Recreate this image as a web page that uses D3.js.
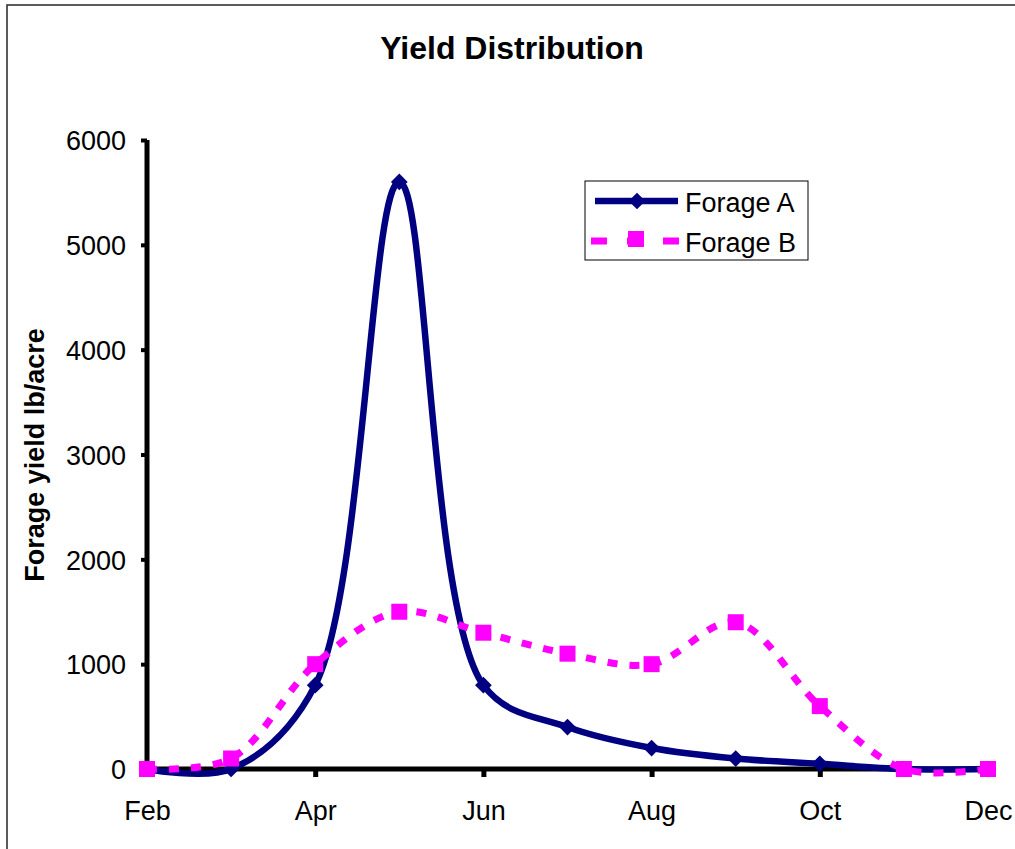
<!DOCTYPE html>
<html>
<head>
<meta charset="utf-8">
<script src="https://cdn.jsdelivr.net/npm/d3@7"></script>
<style>
  html, body { margin: 0; padding: 0; background: #fff; }
  svg { display: block; }
  text { font-family: "Liberation Sans", Arial, sans-serif; }
</style>
</head>
<body>
<script>
// ---- data ----
const months = ["Feb", "Mar", "Apr", "May", "Jun", "Jul", "Aug", "Sep", "Oct", "Nov", "Dec"];
const forageA = [0, 0, 800, 5600, 800, 400, 200, 100, 50, 0, 0];
const forageB = [0, 100, 1000, 1500, 1300, 1100, 1000, 1400, 600, 0, 0];
const xTickLabels = ["Feb", "Apr", "Jun", "Aug", "Oct", "Dec"];
const yTicks = [0, 1000, 2000, 3000, 4000, 5000, 6000];
const seriesNames = ["Forage A", "Forage B"];

const W = 1015, H = 849;
const svg = d3.select("body").append("svg").attr("width", W).attr("height", H);

// outer frame
svg.append("rect").attr("x", 7).attr("y", 5).attr("width", W + 10).attr("height", H + 10)
  .attr("fill", "none").attr("stroke", "#333").attr("stroke-width", 1.6);

// title
svg.append("text").attr("x", 512).attr("y", 59).attr("text-anchor", "middle")
  .attr("font-size", 32).attr("font-weight", "bold").text("Yield Distribution");

const x = d3.scalePoint().domain(months).range([147, 988]);
const y = d3.scaleLinear().domain([0, 6000]).range([769, 140]);

// y axis
const yAxis = svg.append("g").attr("transform", "translate(147,0)")
  .call(d3.axisLeft(y).tickValues(yTicks).tickSize(6).tickPadding(15).tickFormat(d3.format("d")));
yAxis.select(".domain").remove();
yAxis.selectAll(".tick line").attr("stroke", "#000").attr("stroke-width", 4);
yAxis.selectAll(".tick text").attr("font-size", 27).attr("fill", "#000").attr("dy", "0.36em");
svg.append("line").attr("x1", 147).attr("x2", 147).attr("y1", 140).attr("y2", 771.5)
  .attr("stroke", "#000").attr("stroke-width", 5);

// x axis
const xAxis = svg.append("g").attr("transform", "translate(0,769)")
  .call(d3.axisBottom(x).tickValues(xTickLabels).tickSize(8).tickPadding(24));
xAxis.select(".domain").remove();
xAxis.selectAll(".tick line").attr("stroke", "#000").attr("stroke-width", 5);
xAxis.selectAll(".tick text").attr("font-size", 27).attr("fill", "#000").attr("y", 51).attr("dy", "0");
svg.append("line").attr("x1", 144.5).attr("x2", 990).attr("y1", 769).attr("y2", 769)
  .attr("stroke", "#000").attr("stroke-width", 5);

// y axis title
svg.append("text").attr("transform", "translate(44,455) rotate(-90)")
  .attr("text-anchor", "middle").attr("font-size", 27).attr("font-weight", "bold")
  .text("Forage yield lb/acre");

const line = d3.line().x((d, i) => x(months[i])).y(d => y(d)).curve(d3.curveCatmullRom.alpha(0.5));

// Forage A
svg.append("path").datum(forageA).attr("d", line).attr("fill", "none")
  .attr("stroke", "#000080").attr("stroke-width", 6.5);
svg.append("g").selectAll("path").data(forageA).join("path")
  .attr("transform", (d, i) => `translate(${x(months[i])},${y(d)}) rotate(45)`)
  .attr("d", d3.symbol().type(d3.symbolSquare).size(140)).attr("fill", "#000080");

// Forage B
svg.append("path").datum(forageB).attr("d", line).attr("fill", "none")
  .attr("stroke", "#FF00FF").attr("stroke-width", 7).attr("stroke-dasharray", "10,12");
svg.append("g").selectAll("rect").data(forageB).join("rect")
  .attr("x", (d, i) => x(months[i]) - 8).attr("y", d => y(d) - 8)
  .attr("width", 16).attr("height", 16).attr("fill", "#FF00FF");

// legend
const lg = svg.append("g");
lg.append("rect").attr("x", 585).attr("y", 181).attr("width", 223).attr("height", 79)
  .attr("fill", "#fff").attr("stroke", "#000").attr("stroke-width", 1);
lg.append("line").attr("x1", 595).attr("x2", 678).attr("y1", 201).attr("y2", 201)
  .attr("stroke", "#000080").attr("stroke-width", 6.5);
lg.append("path").attr("transform", "translate(637,201) rotate(45)")
  .attr("d", d3.symbol().type(d3.symbolSquare).size(140)).attr("fill", "#000080");
lg.append("line").attr("x1", 591).attr("x2", 681).attr("y1", 241).attr("y2", 241)
  .attr("stroke", "#FF00FF").attr("stroke-width", 7).attr("stroke-dasharray", "16,20");
lg.append("rect").attr("x", 628).attr("y", 231).attr("width", 16).attr("height", 16).attr("fill", "#FF00FF");
lg.selectAll("text.lt").data(seriesNames).join("text").attr("class", "lt")
  .attr("x", 685).attr("y", (d, i) => 202 + i * 40).attr("dy", "0.36em")
  .attr("font-size", 27).text(d => d);
</script>
</body>
</html>
